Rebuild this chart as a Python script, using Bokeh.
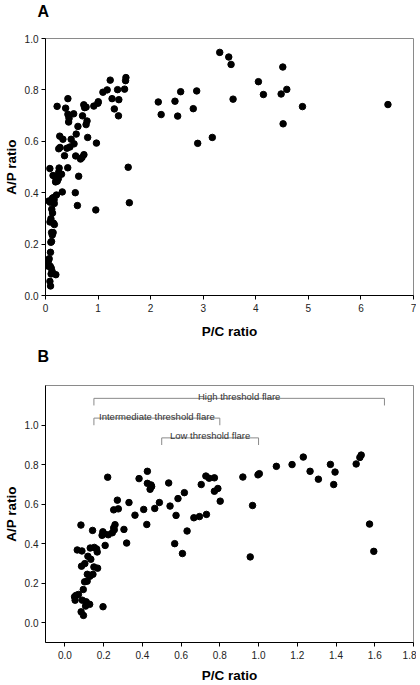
from bokeh.plotting import figure
from bokeh.layouts import column
from bokeh.models import FixedTicker, NumeralTickFormatter, Range1d, ColumnDataSource, Title
from bokeh.core.properties import value
from bokeh.embed import file_html
from bokeh.resources import INLINE

# P/C ratio (x) and A/P ratio (y) for every flare-threshold measurement
pc_ratio = [
    0.221, 0.271, 0.331, 0.276, 0.252, 0.362, 0.383, 0.426, 0.426, 0.445,
    0.440, 0.448, 0.407, 0.423, 0.464, 0.488, 0.536, 0.543, 0.584, 0.617,
    0.574, 0.567, 0.607, 0.631, 0.666, 0.695, 0.731, 0.704, 0.728, 0.745,
    0.772, 0.772, 0.790, 0.802, 0.919, 0.957, 0.969, 0.997, 1.004, 1.092,
    1.173, 1.231, 1.266, 1.309, 1.371, 1.395, 1.388, 1.504, 1.523, 1.530,
    1.573, 1.595,
    0.083, 0.143, 0.196, 0.192, 0.203, 0.224, 0.245, 0.252, 0.259, 0.255,
    0.305, 0.208, 0.319,
    0.064, 0.088, 0.131, 0.152, 0.119, 0.134, 0.164, 0.167, 0.086, 0.103,
    0.150, 0.169, 0.116, 0.129, 0.145, 0.102, 0.115, 0.095, 0.070, 0.057,
    0.050, 0.053, 0.090, 0.110, 0.128, 0.107, 0.084, 0.096, 0.197,
    2.145, 2.200, 2.463, 2.514, 2.571, 2.811, 2.876, 2.895, 3.173, 3.314,
    3.486, 3.530, 3.568, 4.050, 4.145, 4.482, 4.514, 4.520, 4.590, 4.888,
    6.514,
]
ap_ratio = [
    0.736, 0.620, 0.608, 0.576, 0.571, 0.544, 0.729, 0.766, 0.705, 0.697,
    0.675, 0.689, 0.573, 0.497, 0.578, 0.608, 0.707, 0.590, 0.628, 0.658,
    0.543, 0.400, 0.350, 0.464, 0.531, 0.537, 0.548, 0.699, 0.742, 0.731,
    0.733, 0.665, 0.679, 0.615, 0.737, 0.333, 0.593, 0.748, 0.754, 0.791,
    0.800, 0.838, 0.766, 0.726, 0.801, 0.762, 0.699, 0.803, 0.836, 0.848,
    0.499, 0.361,
    0.494, 0.467, 0.460, 0.442, 0.450, 0.445, 0.455, 0.480, 0.496, 0.470,
    0.472, 0.391, 0.403,
    0.368, 0.363, 0.378, 0.381, 0.336, 0.321, 0.373, 0.358, 0.286, 0.299,
    0.282, 0.276, 0.245, 0.235, 0.245, 0.207, 0.210, 0.168, 0.143, 0.138,
    0.131, 0.114, 0.114, 0.106, 0.093, 0.084, 0.055, 0.037, 0.081,
    0.753, 0.704, 0.756, 0.698, 0.793, 0.727, 0.796, 0.592, 0.615, 0.946,
    0.928, 0.899, 0.764, 0.832, 0.782, 0.784, 0.889, 0.668, 0.802, 0.735,
    0.743,
]

# tick labels
a_x_ticks = [0, 1, 2, 3, 4, 5, 6, 7]
a_y_ticks = [0.0, 0.2, 0.4, 0.6, 0.8, 1.0]
b_x_ticks = [0.0, 0.2, 0.4, 0.6, 0.8, 1.0, 1.2, 1.4, 1.6, 1.8]
b_y_ticks = [0.0, 0.2, 0.4, 0.6, 0.8, 1.0]

# flare-threshold brackets in panel B
flare_labels = ["High threshold flare", "Intermediate threshold flare", "Low threshold flare"]
flare_start = [0.15, 0.15, 0.50]
flare_end = [1.65, 0.80, 1.00]
flare_level = [1.135, 1.035, 0.935]

FONT = "Liberation Sans"
W = 416


def style(p, xt, yt, xfmt, yfmt, xstand, ystand, panel, title_standoff, spacer):
    p.xgrid.visible = False
    p.ygrid.visible = False
    p.outline_line_color = "#8a8a8a"
    p.outline_line_width = 1
    p.background_fill_color = "white"
    p.border_fill_color = "white"
    p.xaxis.ticker = FixedTicker(ticks=xt, minor_ticks=[])
    p.yaxis.ticker = FixedTicker(ticks=yt, minor_ticks=[])
    p.xaxis.formatter = NumeralTickFormatter(format=xfmt)
    p.yaxis.formatter = NumeralTickFormatter(format=yfmt)
    for ax in (p.xaxis[0], p.yaxis[0]):
        ax.axis_line_color = "black"
        ax.axis_line_width = 1
        ax.major_tick_line_color = "black"
        ax.major_tick_out = 4
        ax.major_tick_in = 0
        ax.minor_tick_line_color = None
        ax.major_label_text_font = FONT
        ax.major_label_text_font_size = "10px"
        ax.major_label_text_color = "#222222"
        ax.major_label_standoff = 4
        ax.axis_label_text_font = FONT
        ax.axis_label_text_font_style = "bold"
        ax.axis_label_text_font_size = "13.5px"
        ax.axis_label_text_color = "black"
    p.yaxis[0].major_label_standoff = 3
    p.xaxis.axis_label = "P/C ratio"
    p.yaxis.axis_label = "A/P ratio"
    p.xaxis.axis_label_standoff = xstand
    p.yaxis.axis_label_standoff = ystand
    # invisible spacer between the frame and the panel letter
    p.add_layout(Title(text=" ", text_font_size="1px", standoff=spacer), "above")
    p.title.text = panel
    p.title.align = "left"
    p.title.vertical_align = "top"
    p.title.offset = -8
    p.title.standoff = title_standoff
    p.title.text_font = FONT
    p.title.text_font_style = "bold"
    p.title.text_font_size = "16px"
    p.title.text_color = "black"


src = ColumnDataSource(data=dict(x=pc_ratio, y=ap_ratio))

# Panel A
pA = figure(width=W, height=344, output_backend="svg", toolbar_location=None,
            x_range=Range1d(0, 7), y_range=Range1d(0, 1.0),
            min_border_left=45, min_border_right=3, min_border_top=37, min_border_bottom=49)
style(pA, a_x_ticks, a_y_ticks, "0", "0.0", 9, 3, "A", 4, 12)
pA.scatter("x", "y", source=src, size=6.5, color="black")

# Panel B
pB = figure(width=W, height=341, output_backend="svg", toolbar_location=None,
            x_range=Range1d(-0.1, 1.8), y_range=Range1d(-0.1, 1.2),
            min_border_left=45, min_border_right=3, min_border_top=41, min_border_bottom=42)
style(pB, b_x_ticks, b_y_ticks, "0.0", "0.0", 6, 3, "B", 2, 15)
pB.scatter("x", "y", source=src, size=6.5, color="black")

tick_drop = 0.036
br_xs = [[s, s, e, e] for s, e in zip(flare_start, flare_end)]
br_ys = [[l - tick_drop, l, l, l - tick_drop] for l in flare_level]
pB.multi_line(xs=br_xs, ys=br_ys, line_color="#8a8a8a", line_width=1)
mid_x = [(s + e) / 2 for s, e in zip(flare_start, flare_end)]
pB.text(x=mid_x, y=flare_level, text=flare_labels, text_font=value(FONT),
        text_font_size="9.5px", text_color="#333333", text_align="center",
        text_baseline="alphabetic", y_offset=-2)

layout = column(pA, pB)
open("out.html", "w").write(file_html(layout, INLINE))
